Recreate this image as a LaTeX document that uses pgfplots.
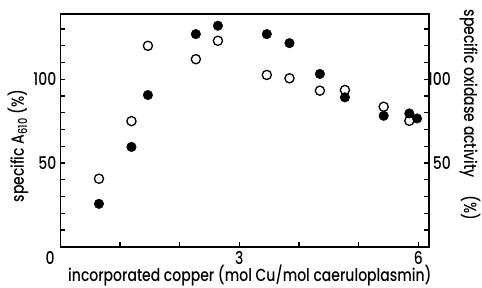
\documentclass[border=0pt]{standalone}
\usepackage{fontspec}
\setmainfont{Poppins}[UprightFont=* Medium, FakeStretch=0.8]
\usepackage{pgfplots}
\pgfplotsset{compat=1.18}
\begin{document}
\fontsize{17.5pt}{20pt}\selectfont
\begin{tikzpicture}
\pgfplotsset{
  common/.style={
    scale only axis, width=368.5pt, height=232.7pt,
    xmin=0, xmax=6.18, ymin=0, ymax=139,
    /pgf/number format/assume math mode=true,
    ytick={50,100},
    minor ytick={10,20,30,40,60,70,80,90,110,120,130},
    tick align=inside,
    major tick length=5pt, minor tick length=5pt,
    every tick/.style={line width=1.3pt, black},
    every minor tick/.style={line width=1.3pt, black},
    axis line style={line width=1.6pt},
    yticklabel style={inner sep=0pt},
  }
}
\begin{axis}[common, name=ax,
  xtick={0,3,6}, minor xtick={1,2,4,5},
  xticklabels={{\hbox to 0pt{\hss 0\hskip 6pt}},3,6},
  xtick pos=bottom, ytick pos=left,
  xticklabel style={inner sep=0pt, anchor=north, yshift=-5pt, text depth=0pt},
  yticklabel style={anchor=east, xshift=-4pt},
  xlabel={incorporated copper (mol Cu/mol caeruloplasmin)},
  xlabel style={at={(axis description cs:0.514,-0.124)}, anchor=center, inner sep=0pt},
  ylabel={specific A\textsubscript{610} (\%)},
  ylabel style={at={(axis description cs:-0.115,0.433)}, anchor=center},
]
\addplot[only marks, mark=*, mark size=4.8pt, mark options={fill=black, draw=black}] coordinates {
(0.645,25.6) (1.19,59.6) (1.466,90.6) (2.27,127) (2.64,132) (3.46,127) (3.84,121.6) (4.35,103.2) (4.77,89.2) (5.42,78.2) (5.85,79.6) (5.98,76.6)
};
\addplot[only marks, mark=o, mark size=4.6pt, mark options={fill=white, draw=black, line width=1.3pt}] coordinates {
(0.645,40.6) (1.19,75) (1.466,120) (2.27,112) (2.64,123) (3.46,102.6) (3.84,100.6) (4.35,93.2) (4.77,93.6) (5.42,83.6) (5.85,75.2)
};
\end{axis}
\begin{axis}[common,
  hide x axis, axis y line*=right,
  yticklabel style={anchor=east, xshift=22pt},
  ylabel={specific oxidase activity\quad (\%)},
  ylabel style={at={(axis description cs:1.111,0.566)}, anchor=center, rotate=180},
]
\end{axis}
\pgfresetboundingbox
\path ([xshift=-60.5pt,yshift=-40.3pt]ax.south west) rectangle ([xshift=53pt,yshift=14pt]ax.north east);
\end{tikzpicture}
\end{document}
